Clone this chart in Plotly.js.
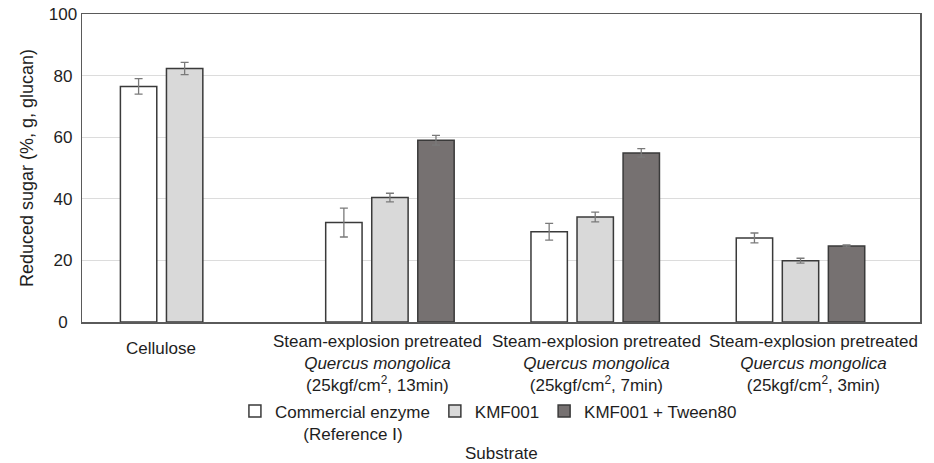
<!DOCTYPE html>
<html>
<head>
<meta charset="utf-8">
<script src="https://cdn.plot.ly/plotly-3.0.1.min.js"></script>
<style>html,body{margin:0;padding:0;background:#fff;}#chart{width:934px;height:463px;}</style>
</head>
<body>
<div id="chart"></div>
<script>
// ---- data ----
var categories = ["Cellulose", "SE13", "SE7", "SE3"];
var categoryLabels = [
  "Cellulose",
  "Steam-explosion pretreated<br><i>Quercus mongolica</i><br>(25kgf/cm<sup>2</sup>, 13min)",
  "Steam-explosion pretreated<br><i>Quercus mongolica</i><br>(25kgf/cm<sup>2</sup>, 7min)",
  "Steam-explosion pretreated<br><i>Quercus mongolica</i><br>(25kgf/cm<sup>2</sup>, 3min)"
];
var seriesNames = ["Commercial enzyme<br>\u00a0\u00a0\u00a0\u00a0\u00a0\u00a0(Reference \u2160)", "KMF001", "KMF001 + Tween80"];
var commercial = [76.5, 32.3, 29.3, 27.3];
var commercialErr = [2.5, 4.7, 2.7, 1.6];
var kmf001 = [82.3, 40.4, 34.1, 19.9];
var kmf001Err = [2.0, 1.4, 1.6, 0.8];
var tween = [null, 59.0, 54.9, 24.7];
var tweenErr = [null, 1.6, 1.4, 0.3];
var yTickVals = [0, 20, 40, 60, 80, 100];
var yTickText = ["0\u2007", "20\u2008", "40\u2008", "60\u2008", "80\u2008", "100"];
var yTitle = "Reduced sugar (%, g, glucan)";
var xTitle = "Substrate";

// ---- styling ----
var FONT = "Liberation Sans, Arial, sans-serif";
var TXT = "#1e1e1e";
var fills = ["#ffffff", "#d9d9d9", "#767171"];
var values = [commercial, kmf001, tween];
var errs = [commercialErr, kmf001Err, tweenErr];

var traces = values.map(function (v, i) {
  return {
    type: "bar",
    name: seriesNames[i],
    x: categories,
    y: v,
    marker: { color: fills[i], line: { color: "#3a3a3a", width: 1.5 } },
    error_y: { type: "data", array: errs[i], visible: true, color: "#7a7a7a", thickness: 1.3, width: 4 },
    hoverinfo: "skip"
  };
});

var labelShifts = [-24, -12, 1, 13];
var labelYShift = [-15, -8, -8, -8];
var annotations = categories.map(function (c, i) {
  return {
    x: c, xref: "x", y: 0, yref: "paper",
    xanchor: "center", yanchor: "top",
    xshift: labelShifts[i], yshift: labelYShift[i],
    text: categoryLabels[i], showarrow: false, align: "center",
    font: { family: FONT, size: 17, color: TXT }
  };
});
annotations.push({
  x: 0.5, xref: "paper", y: 0, yref: "paper",
  xanchor: "center", yanchor: "top", yshift: -120,
  text: xTitle, showarrow: false,
  font: { family: FONT, size: 17, color: TXT }
});

var layout = {
  width: 934, height: 463,
  margin: { l: 82, r: 14, t: 14, b: 139 },
  paper_bgcolor: "#ffffff", plot_bgcolor: "#ffffff",
  font: { family: FONT, size: 17, color: TXT },
  barmode: "group",
  bargap: 0.327,
  bargroupgap: 0.21,
  showlegend: true,
  legend: {
    orientation: "h", x: 0.485, xanchor: "center", y: -0.232, yanchor: "top",
    valign: "top", font: { family: FONT, size: 17, color: TXT },
    traceorder: "normal", bgcolor: "rgba(0,0,0,0)"
  },
  xaxis: {
    type: "category", categoryorder: "array", categoryarray: categories,
    showticklabels: false, ticks: "",
    showline: true, linecolor: "#5a5a5a", linewidth: 1.5, mirror: true,
    showgrid: false, zeroline: false, fixedrange: true
  },
  yaxis: {
    range: [0, 100], tickvals: yTickVals, ticktext: yTickText,
    ticks: "", showline: true, linecolor: "#5a5a5a", linewidth: 1.5, mirror: true,
    showgrid: true, gridcolor: "#dcdcdc", gridwidth: 1, zeroline: false,
    tickfont: { family: FONT, size: 17, color: TXT },
    title: { text: yTitle, font: { family: FONT, size: 18, color: TXT }, standoff: 10 },
    fixedrange: true
  },
  annotations: annotations
};

Plotly.newPlot("chart", traces, layout, { displayModeBar: false, staticPlot: true });
</script>
</body>
</html>
